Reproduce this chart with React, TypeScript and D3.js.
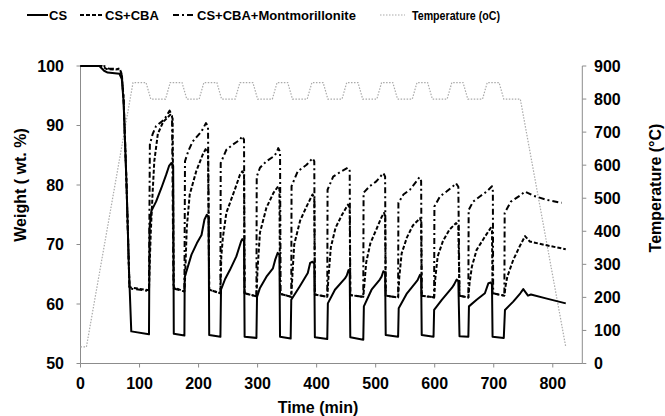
import React from 'react';
import * as d3 from 'd3';

// axis ticks
const timeTicks = [0, 100, 200, 300, 400, 500, 600, 700, 800];
const weightTicks = [50, 60, 70, 80, 90, 100];
const tempTicks = [0, 100, 200, 300, 400, 500, 600, 700, 800, 900];

// temperature program (min, °C)
const tempData: [number, number][] = [
  [0, 50], [10, 50], [89, 850], [111, 850], [119, 800], [144, 800], [152, 850], [172, 850],
  [180, 800], [201, 800], [209, 850], [231, 850], [239, 800], [262, 800], [270, 850], [292, 850],
  [300, 800], [325, 800], [333, 850], [351, 850], [359, 800], [384, 800], [392, 850], [411, 850],
  [419, 800], [443, 800], [451, 850], [470, 850], [478, 800], [502, 800], [510, 850], [529, 850],
  [537, 800], [562, 800], [570, 850], [588, 850], [596, 800], [621, 800], [629, 850], [648, 850],
  [656, 800], [681, 800], [689, 850], [709, 850], [717, 800], [745, 800], [822, 50],
];

// CS weight (min, wt.%)
const csData: [number, number][] = [
  [0, 100], [32, 100], [40, 99.2], [46, 98.9], [66, 98.7], [70, 97.8], [73, 94], [78, 80], [82, 66], [86, 55.4],
  [116, 54.9], [117, 72.8], [120, 75.6], [128, 77.2], [137, 79.5], [145, 81.7], [150, 83.2], [154, 83.7], [157, 83.2], [158, 55],
  [176, 54.7], [176.5, 64.5], [188, 68.3], [197, 70.2], [205, 71.6], [210, 74.2], [214, 75], [217, 74.6], [218, 54.8],
  [237, 54.5], [238, 62.4], [245, 64.2], [253, 65.7], [264, 68], [272, 70.5], [274, 70.9], [277, 70.6], [278, 54.5],
  [298, 54.3], [299, 61.2], [304, 62.7], [315, 64.6], [326, 66], [330, 67.5], [334, 68.6], [337, 68.3], [338, 54.5],
  [356, 54.2], [357, 60.7], [364, 61.8], [371, 62.9], [385, 65.2], [389, 66.9], [393, 67.1], [396, 66.8], [397, 54.4],
  [418, 54.1], [419, 60.1], [431, 62.4], [448, 64.3], [451, 64.8], [454, 65.7], [456, 65.5], [457, 54.4],
  [479, 54.0], [480, 59.6], [493, 62.4], [507, 64.1], [510, 64.6], [513, 65.5], [516, 65.3], [517, 54.8],
  [538, 54.5], [539, 59.3], [553, 61.8], [567, 63.5], [571, 64], [575, 64.9], [577, 64.7], [578, 54.8],
  [598, 54.5], [599, 59], [612, 60.7], [629, 62.7], [633, 63.3], [637, 64.1], [640, 63.9], [642, 54.6],
  [657, 54.5], [658, 59.6], [671, 60.7], [685, 61.8], [691, 63.5], [695, 63.6], [697, 63.3], [698, 54.5],
  [717, 54.3], [719, 59], [733, 60.4], [745, 61.8], [750, 62.5], [758, 61.4], [763, 61.6], [790, 60.9], [822, 60.1],
];

// CS+CBA weight
const cbaData: [number, number][] = [
  [0, 100], [36, 100], [44, 99.5], [60, 99.4], [66, 99.6], [70, 98.6], [73, 94.5], [78, 80], [83, 62.8],
  [116, 62.3], [117, 66], [119, 72], [122, 78.4], [125, 84], [131, 88.6], [140, 90.6], [146, 91.2], [152, 91.8], [156, 91.2], [158, 62.8],
  [176, 62.1], [177, 64], [180, 72.8], [185, 78.4], [196, 82.3], [207, 85.1], [213, 86.2], [216, 85.6], [218, 62.4],
  [237, 61.8], [238.5, 68], [241, 71], [247, 75.3], [255, 77.5], [262, 79.4], [270, 81.7], [274, 82.3], [277, 81.8], [278, 61.8],
  [298, 61.3], [300, 66], [304, 72], [315, 76.2], [327, 78.7], [335, 79.8], [337, 79.3], [338, 61.7],
  [357, 61.2], [359, 65], [362, 70], [372, 74], [383, 76.4], [393, 78.4], [396, 77.9], [397, 61.6],
  [418, 61.2], [420, 64.5], [424, 69.5], [432, 72.8], [443, 75], [453, 76.7], [456, 76.2], [457, 61.5],
  [479, 61.2], [481, 63.5], [484, 67], [491, 70.2], [501, 72.5], [510, 74.6], [514, 75.3], [516, 74.8], [517, 61.4],
  [538, 61.1], [540, 64.5], [544, 68.5], [553, 71.2], [563, 73.2], [575, 74.4], [577, 73.9], [578, 61.4],
  [599, 61.1], [601, 64.3], [605, 68], [614, 70.6], [625, 72.5], [636, 73.6], [640, 73.1], [642, 61.4],
  [657, 61.1], [659, 63.5], [663, 66.3], [671, 69.1], [685, 71.3], [695, 72.8], [697, 72.3], [698, 61.8],
  [718, 61.4], [720, 63], [723, 64.6], [733, 67.4], [744, 69.7], [753, 71.4], [761, 70.5], [783, 70], [822, 69.2],
];

// CS+CBA+Montmorillonite weight
const montData: [number, number][] = [
  [0, 100], [40, 100], [47, 99.6], [62, 99.5], [67, 99.3], [70, 98.4], [73, 94.5], [78, 80], [83, 62.6],
  [116, 62.2], [117.5, 86.8], [122, 88.5], [128, 89.9], [142, 91], [151, 92.5], [155, 91.6], [157.5, 62.6],
  [176, 62.1], [177, 84], [183, 85.8], [190, 87.3], [205, 89], [212.5, 90.4], [216, 89.8], [218, 62.4],
  [237, 61.8], [237.5, 83.7], [247, 85.9], [258, 86.8], [270, 87.6], [274, 88.2], [277, 87.6], [278, 61.8],
  [298, 61.3], [298.5, 81.4], [304, 82.9], [315, 84], [327, 84.8], [332, 85.4], [335, 86.2], [338, 85.6], [339, 61.7],
  [357, 61.2], [357.5, 79.8], [368, 82.3], [383, 83.4], [393, 84.5], [396, 84], [397, 61.6],
  [418, 61.2], [418.5, 79.2], [428, 81.4], [442, 82.3], [453, 82.9], [456, 82.4], [457, 61.5],
  [479, 61.2], [479.5, 78.7], [490, 79.8], [501, 80.6], [513, 82], [516, 81.4], [517, 61.4],
  [538, 61.1], [538.5, 77], [547, 78.4], [558, 79.2], [569, 80.6], [574, 81.3], [577, 80.7], [578, 61.4],
  [599, 61.1], [599.5, 76.4], [609, 78.1], [620, 78.9], [631, 79.8], [636, 80.3], [640, 79.7], [642, 61.4],
  [657, 61.1], [657.5, 75.8], [665, 77.2], [677, 78.1], [688, 78.9], [697, 79.8], [698.5, 79], [699, 61.8],
  [718, 61.4], [718.5, 75.3], [729, 77.2], [744, 78.2], [753, 78.9], [767, 78.2], [790, 77.5], [815, 77],
];

const FONT = '"Liberation Sans", Arial, sans-serif';
const AXIS = '#8c8c8c';
const DASH = '4,2';
const DASHDOT = '6,3,2,3';

export default function App() {
  const x = d3.scaleLinear().domain([0, 850]).range([80.5, 582.3]);
  const yW = d3.scaleLinear().domain([50, 100]).range([363.5, 66]);
  const yT = d3.scaleLinear().domain([0, 900]).range([363.5, 66]);

  const lineW = d3.line<[number, number]>().x(d => x(d[0])).y(d => yW(d[1]));
  const lineT = d3.line<[number, number]>().x(d => x(d[0])).y(d => yT(d[1]));

  const series = [
    { data: csData, dash: 'none' },
    { data: cbaData, dash: DASH },
    { data: montData, dash: DASHDOT },
  ];

  // legend entries
  const legend = [
    { x1: 27, x2: 48, tx: 49, label: 'CS', dash: 'none', color: '#000', w: 2 },
    { x1: 80, x2: 103, tx: 105, label: 'CS+CBA', dash: DASH, color: '#000', w: 2 },
    { x1: 173, x2: 195, tx: 197, label: 'CS+CBA+Montmorillonite', dash: DASHDOT, color: '#000', w: 2 },
    { x1: 380, x2: 405, tx: 412, label: 'Temperature (oC)', dash: '1.5,1.5', color: '#aaa', w: 1.2, len: 88 },
  ];

  return (
    <svg width={665} height={416} style={{ position: 'absolute', left: 0, top: 0, background: '#fff' }}
      fontFamily={FONT} fontWeight="bold">
      {/* legend */}
      {legend.map(l => (
        <g key={l.label}>
          <line x1={l.x1} x2={l.x2} y1={15} y2={15} stroke={l.color} strokeWidth={l.w}
            strokeDasharray={l.dash} />
          <text x={l.tx} y={19.5} fontSize={13} fill="#000"
            {...(l.len ? { textLength: l.len, lengthAdjust: 'spacingAndGlyphs' } : {})}>{l.label}</text>
        </g>
      ))}

      {/* axes */}
      <line x1={80.5} x2={80.5} y1={66} y2={363.5} stroke={AXIS} />
      <line x1={582.3} x2={582.3} y1={66} y2={363.5} stroke={AXIS} />
      <line x1={80.5} x2={582.3} y1={363.5} y2={363.5} stroke={AXIS} />

      {weightTicks.map(t => (
        <g key={'w' + t}>
          <line x1={76.5} x2={80.5} y1={yW(t)} y2={yW(t)} stroke={AXIS} />
          <text x={64} y={yW(t)} dy="0.36em" textAnchor="end" fontSize={16}>{t}</text>
        </g>
      ))}
      {tempTicks.map(t => (
        <g key={'t' + t}>
          <line x1={582.3} x2={586.3} y1={yT(t)} y2={yT(t)} stroke={AXIS} />
          <text x={594} y={yT(t)} dy="0.36em" textAnchor="start" fontSize={16}>{t}</text>
        </g>
      ))}
      {timeTicks.map(t => (
        <g key={'x' + t}>
          <line x1={x(t)} x2={x(t)} y1={363.5} y2={367.5} stroke={AXIS} />
          <text x={x(t)} y={388.5} textAnchor="middle" fontSize={16}>{t}</text>
        </g>
      ))}

      <text x={318} y={412.5} textAnchor="middle" fontSize={16}>Time (min)</text>
      <text transform="translate(26,185) rotate(-90)" textAnchor="middle" fontSize={16}>Weight ( wt. %)</text>
      <text transform="translate(661,188) rotate(-90)" textAnchor="middle" fontSize={16}>Temperature (°C)</text>

      {/* temperature */}
      <path d={lineT(tempData) || ''} fill="none" stroke="#aaa" strokeWidth={1.2} strokeDasharray="1.5,1.5" />

      {/* weight curves */}
      {series.map((s, i) => (
        <path key={i} d={lineW(s.data) || ''} fill="none" stroke="#000" strokeWidth={2}
          strokeDasharray={s.dash} strokeLinejoin="round" />
      ))}
    </svg>
  );
}
